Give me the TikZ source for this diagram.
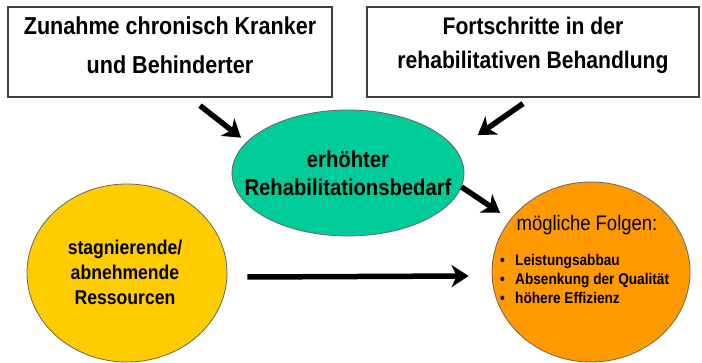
\documentclass[tikz,border=0pt]{standalone}
\usepackage{fontspec}
\setmainfont[FakeStretch=0.88]{Liberation Sans}
\usetikzlibrary{shapes.geometric,arrows.meta}
\definecolor{gruen}{RGB}{0,204,153}
\definecolor{gelb}{RGB}{255,204,0}
\definecolor{folgenorange}{RGB}{255,153,0}

\tikzset{
  kasten/.style={draw=black!75, line width=1.2pt, minimum width=324pt,
    minimum height=90pt, align=center, inner sep=0pt},
  blase/.style={ellipse, draw=black!60, line width=0.8pt, inner sep=0pt},
  pfeil/.style={line width=5.5pt, -{Stealth[length=17pt,width=22pt,inset=5pt]}}
}

\begin{document}
\begin{tikzpicture}[x=1pt, y=-1pt]
  \useasboundingbox (0,0) rectangle (702,363);

  \node[kasten, text depth=14pt, font=\fontsize{24.5}{39}\selectfont\bfseries] (kranke) at (170,52)
    {Zunahme chronisch Kranker\\und Behinderter};
  \node[kasten, minimum width=332pt, text depth=19pt, font=\fontsize{24}{34}\selectfont\bfseries] (fortschritt) at (533,52)
    {Fortschritte in der\\rehabilitativen Behandlung};

  \node[blase, fill=gruen, minimum width=232pt, minimum height=126pt] (bedarf) at (348,173) {};
  \node[blase, fill=gelb, minimum width=200pt, minimum height=178pt] (ressourcen) at (127,273) {};
  \node[blase, fill=folgenorange, minimum width=198pt, minimum height=180pt] (folgen) at (591,272) {};

  \node[align=center, font=\fontsize{23}{28}\selectfont\bfseries] (bedarftext) at (bedarf)
    {erhöhter\\Rehabilitationsbedarf};
  \node[align=center, font=\fontsize{20}{25}\selectfont\bfseries] (ressourcentext) at (125,272)
    {stagnierende/\\abnehmende\\Ressourcen};
  \node[font=\fontsize{21}{24}\selectfont] (titel) at (587,225) {mögliche Folgen:};
  \node[anchor=west, align=left, inner sep=0pt, font=\fontsize{15.5}{19}\selectfont\bfseries] (liste) at (500,279)
    {\makebox[15pt][l]{\textbullet}Leistungsabbau\\
     \makebox[15pt][l]{\textbullet}Absenkung der Qualität\\
     \makebox[15pt][l]{\textbullet}höhere Effizienz};

  \draw[pfeil, shorten >=7pt] ([xshift=30pt,yshift=-8pt]kranke.south) -- (bedarf.163);
  \draw[pfeil, shorten >=26pt] ([xshift=-10pt,yshift=-6pt]fortschritt.south) -- (bedarf.12);
  \draw[pfeil, shorten >=12pt] (bedarf.-7) -- (folgen.147);
  \draw[pfeil] ([xshift=20pt,yshift=-4pt]ressourcen.east) -- ([xshift=-23pt,yshift=-4pt]folgen.west);
\end{tikzpicture}
\end{document}
